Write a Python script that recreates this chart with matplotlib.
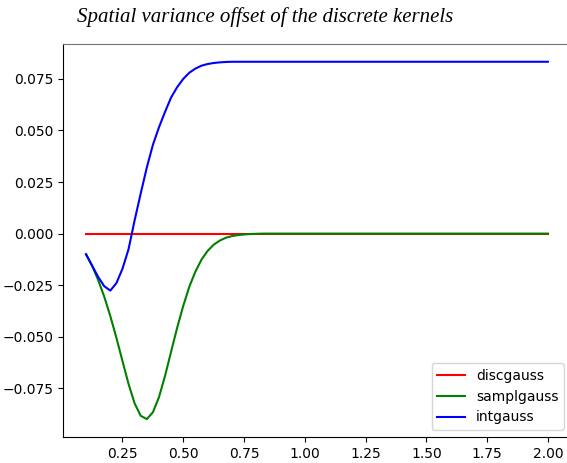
import matplotlib
matplotlib.use("Agg")
import matplotlib.pyplot as plt

# scale parameter (sigma) samples
sigma = [0.1 + 0.025 * i for i in range(77)]

# discrete gaussian: offset is zero everywhere
discgauss = [0.0] * 77

samplgauss_head = [-0.0100, -0.0156, -0.0225, -0.0306, -0.0400, -0.0505,
                   -0.0618, -0.0729, -0.0823, -0.0883, -0.0899, -0.0866,
                   -0.0793, -0.0690, -0.0572, -0.0456, -0.0350, -0.0257,
                   -0.0184, -0.0126, -0.0084, -0.0054, -0.0034, -0.0020,
                   -0.0012, -0.0007, -0.0004, -0.0002, -0.0001]
samplgauss = samplgauss_head + [0.0] * (77 - len(samplgauss_head))

# integrated gaussian offset
intgauss_head = [-0.0100, -0.0155, -0.0210, -0.0255, -0.0276, -0.0240,
                 -0.0170, -0.0075, 0.0065, 0.0195, 0.0320, 0.0430,
                 0.0515, 0.0590, 0.0660, 0.0710, 0.0750, 0.0780,
                 0.0800, 0.0814, 0.0822, 0.0827, 0.0830, 0.0832]
intgauss = intgauss_head + [0.0833] * (77 - len(intgauss_head))

fig = plt.figure(figsize=(5.67, 4.63), dpi=100)
ax = fig.add_axes([0.111, 0.0562, 0.896, 0.849])

ax.plot(sigma, discgauss, color="red", label="discgauss")
ax.plot(sigma, samplgauss, color="green", label="samplgauss")
ax.plot(sigma, intgauss, color="blue", label="intgauss")

ax.set_xticks([0.25, 0.5, 0.75, 1.0, 1.25, 1.5, 1.75, 2.0])
ax.set_yticks([-0.075, -0.05, -0.025, 0.0, 0.025, 0.05, 0.075])
ax.spines["top"].set_color("0.45")
ax.legend(loc="lower right")

fig.text(0.467, 0.963, "Spatial variance offset of the discrete kernels",
         ha="center", va="center", fontsize=15, style="italic",
         family="Liberation Serif")

fig.savefig("out.png", dpi=100)
